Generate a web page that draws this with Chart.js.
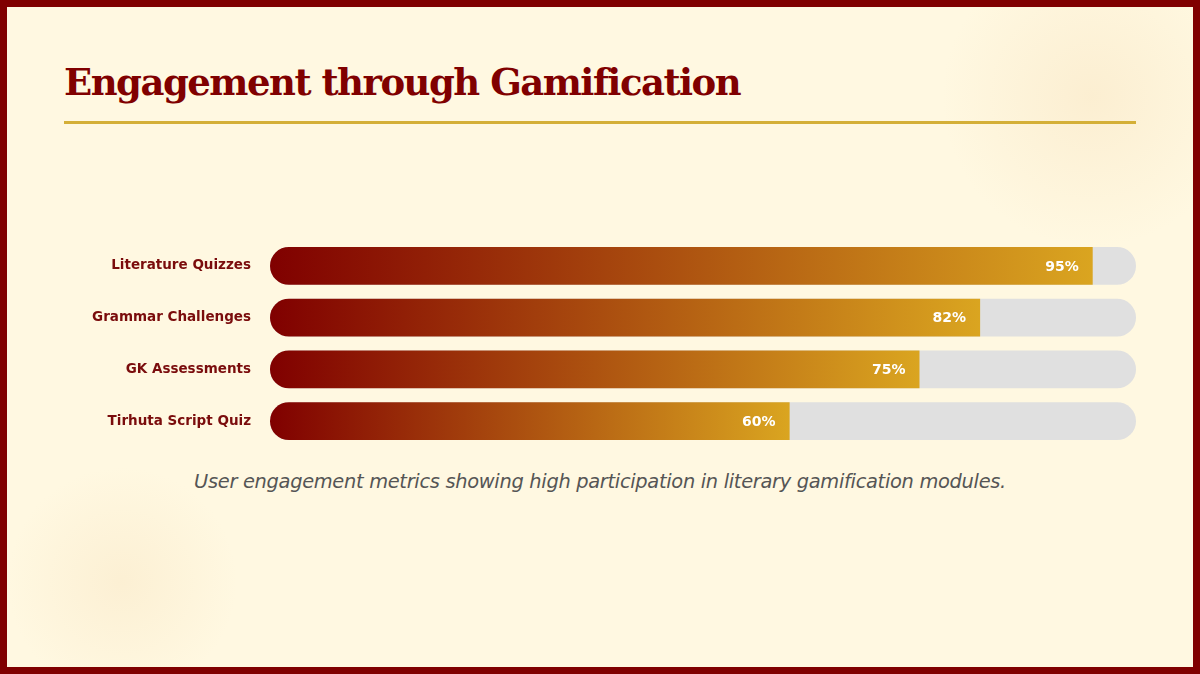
<!DOCTYPE html>
<html>
<head>
<meta charset="utf-8">
<script src="https://cdn.jsdelivr.net/npm/chart.js@4.4.1/dist/chart.umd.min.js"></script>
<style>
  html, body { margin: 0; padding: 0; }
  body { width: 1200px; height: 674px; overflow: hidden; position: relative; background: #FFF8E1; }
  .frame { position: absolute; left: 0; top: 0; width: 1200px; height: 674px; box-sizing: border-box; border: 7px solid #800000;
    background:
      radial-gradient(circle at 1085px 90px, rgba(245,220,180,0.35) 0px, rgba(245,220,180,0) 150px),
      radial-gradient(circle at 115px 575px, rgba(245,220,180,0.3) 0px, rgba(245,220,180,0) 115px),
      #FFF8E1; }
  h1 { position: absolute; left: 64px; top: 62px; margin: 0; font-family: "DejaVu Serif", serif; font-weight: bold; font-size: 37px; color: #800000; line-height: 1.1; white-space: nowrap; letter-spacing: -1.5px; }
  .rule { position: absolute; left: 64px; top: 121px; width: 1072px; height: 3px; background: #D4AF37; }
  .chartbox { position: absolute; left: 0; top: 240px; width: 1200px; height: 207px; }
  .chartbox canvas { display: block; }
  .caption { position: absolute; left: 0; width: 1200px; top: 470px; text-align: center; font-family: "DejaVu Sans", sans-serif; font-style: italic; font-size: 19.4px; color: #555555; letter-spacing: -0.3px; }
</style>
</head>
<body>
<div class="frame"></div>
<h1>Engagement through Gamification</h1>
<div class="rule"></div>
<div class="chartbox"><canvas id="c" width="1200" height="207" style="width:1200px;height:207px"></canvas></div>
<div class="caption">User engagement metrics showing high participation in literary gamification modules.</div>
<script>
const categories = ["Literature Quizzes", "Grammar Challenges", "GK Assessments", "Tirhuta Script Quiz"];
const engagement = [95, 82, 75, 60];
const trackValues = [100, 100, 100, 100];

const valueLabelPlugin = {
  id: 'valueLabels',
  afterDatasetsDraw(chart) {
    const meta = chart.getDatasetMeta(0);
    const ctx = chart.ctx;
    ctx.save();
    ctx.font = '600 14px "DejaVu Sans", sans-serif';
    ctx.fillStyle = '#ffffff';
    ctx.textAlign = 'right';
    ctx.textBaseline = 'middle';
    meta.data.forEach((bar, i) => {
      ctx.fillText(engagement[i] + '%', bar.x - 14, bar.y + 1);
    });
    ctx.restore();
  }
};

function barGradient(context) {
  const chart = context.chart;
  const area = chart.chartArea;
  if (!area || !chart.scales.x) return '#800000';
  const xs = chart.scales.x;
  const x0 = xs.getPixelForValue(0);
  const x1 = xs.getPixelForValue(engagement[context.dataIndex]);
  const g = chart.ctx.createLinearGradient(x0, 0, x1, 0);
  g.addColorStop(0, '#800000');
  g.addColorStop(1, '#DAA520');
  return g;
}

new Chart(document.getElementById('c'), {
  type: 'bar',
  data: {
    labels: categories,
    datasets: [
      {
        label: 'Engagement',
        data: engagement,
        backgroundColor: barGradient,
        borderRadius: 19,
        borderSkipped: 'end',
        categoryPercentage: 1,
        barPercentage: 0.734,
        grouped: false,
        order: 1
      },
      {
        label: 'Track',
        data: trackValues,
        backgroundColor: '#E0E0E0',
        borderRadius: 19,
        borderSkipped: false,
        categoryPercentage: 1,
        barPercentage: 0.734,
        grouped: false,
        order: 2
      }
    ]
  },
  options: {
    indexAxis: 'y',
    responsive: false,
    maintainAspectRatio: false,
    devicePixelRatio: 1,
    animation: false,
    layout: { padding: { left: 0, right: 64, top: 0, bottom: 0 } },
    plugins: { legend: { display: false }, tooltip: { enabled: false } },
    scales: {
      x: { min: 0, max: 100, display: false },
      y: {
        grid: { display: false, drawTicks: false },
        border: { display: false },
        ticks: {
          padding: 19,
          color: '#7a0c0c',
          font: { family: '"DejaVu Sans", sans-serif', weight: 'bold', size: 13.5 }
        },
        afterFit(scale) {
          scale.width = 270;
          scale.paddingTop = 0;
          scale.paddingBottom = 0;
        }
      }
    }
  },
  plugins: [valueLabelPlugin]
});
</script>
</body>
</html>
